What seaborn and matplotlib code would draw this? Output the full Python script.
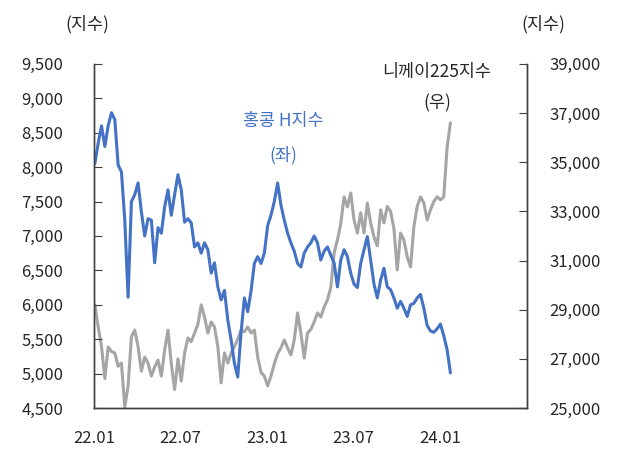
import pandas as pd
import matplotlib
matplotlib.use("Agg")
import matplotlib.pyplot as plt
import matplotlib.dates as mdates
import seaborn as sns

# 주간 데이터
start_date = "2022-01-03"

hscei = [8050, 8350, 8600, 8300, 8600, 8790, 8690, 8030, 7930, 7230,
         6110, 7500, 7600, 7770, 7350, 7000, 7250, 7230, 6610, 7120,
         7040, 7420, 7670, 7300, 7600, 7890, 7670, 7200, 7250, 7190,
         6840, 6900, 6750, 6900, 6800, 6460, 6610, 6260, 6070, 6210,
         5780, 5490, 5150, 4950, 5600, 6100, 5900, 6200, 6600, 6700,
         6600, 6750, 7150, 7300, 7500, 7770, 7450, 7230, 7040, 6900,
         6780, 6600, 6550, 6750, 6840, 6900, 7000, 6900, 6650, 6780,
         6840, 6720, 6610, 6260, 6650, 6800, 6700, 6460, 6300, 6250,
         6600, 6800, 6990, 6650, 6300, 6100, 6360, 6530, 6260, 6220,
         6100, 5950, 6050, 5950, 5830, 6000, 6020, 6100, 6150, 5950,
         5700, 5620, 5600, 5650, 5720, 5550, 5350, 5010]

nikkei = [29200, 28300, 27500, 26200, 27480, 27300, 27240, 26700, 26830, 25040,
          25900, 27900, 28170, 27500, 26500, 27070, 26830, 26300, 26670, 26950,
          26300, 27360, 28170, 26800, 25750, 27000, 26100, 27240, 27850, 27700,
          28050, 28400, 29200, 28700, 28050, 28500, 28300, 27500, 26020, 27240,
          26830, 27240, 27500, 27800, 28170, 28100, 28300, 28050, 28170, 27070,
          26450, 26300, 25900, 26300, 26800, 27200, 27450, 27770, 27440, 27160,
          27770, 28870, 28050, 27030, 28050, 28200, 28500, 28870, 28700, 29110,
          29400, 29900, 31310, 31840, 32500, 33590, 33180, 33750, 32650, 32120,
          32940, 32120, 33340, 32530, 31960, 31600, 33060, 32530, 33200, 33000,
          32300, 30620, 32120, 31840, 31150, 30740, 32370, 33200, 33590, 33340,
          32650, 33060, 33400, 33590, 33470, 33590, 35600, 36600]

x_ticks = ["2022-01-01", "2022-07-01", "2023-01-01", "2023-07-01", "2024-01-01"]

df = pd.DataFrame({
    "date": pd.date_range(start_date, periods=len(hscei), freq="7D"),
    "hscei": hscei,
    "nikkei": nikkei,
})

sns.set_style("white")
plt.rcParams["font.family"] = ["Noto Sans CJK KR", "DejaVu Sans"]

blue = "#4472C4"
gray = "#A5A5A5"

fig = plt.figure(figsize=(6.22, 4.53), dpi=100)
ax = fig.add_axes([0.151, 0.0993, 0.696, 0.7597])
ax2 = ax.twinx()

sns.lineplot(data=df, x="date", y="nikkei", ax=ax2, color=gray, linewidth=2.2)
sns.lineplot(data=df, x="date", y="hscei", ax=ax, color=blue, linewidth=2.2)
# blue over gray
ax.set_zorder(ax2.get_zorder() + 1)
ax.patch.set_visible(False)

ax.set_xlim(pd.Timestamp("2022-01-01"), pd.Timestamp("2024-07-01"))
ax.set_ylim(4500, 9500)
ax2.set_ylim(25000, 39000)
ax.set_yticks(range(4500, 9501, 500))
ax2.set_yticks(range(25000, 39001, 2000))
ax.yaxis.set_major_formatter(matplotlib.ticker.StrMethodFormatter("{x:,.0f}"))
ax2.yaxis.set_major_formatter(matplotlib.ticker.StrMethodFormatter("{x:,.0f}"))
ax.set_xticks(pd.to_datetime(x_ticks))
ax.xaxis.set_major_formatter(mdates.DateFormatter("%y.%m"))

for a in (ax, ax2):
    a.set_xlabel("")
    a.set_ylabel("")
    a.spines["top"].set_visible(False)
    for s in ("left", "right", "bottom"):
        a.spines[s].set_color("#404040")
        a.spines[s].set_linewidth(1.0)

ax.tick_params(axis="y", direction="in", length=6, color="#404040", pad=22, labelsize=12)
ax2.tick_params(axis="y", direction="in", length=6, color="#404040", pad=16, labelsize=12)
ax.tick_params(axis="x", direction="in", length=6, color="#404040", pad=16, labelsize=12)

fig.text(87 / 622, 1 - 24 / 453, "(지수)", ha="center", va="center", fontsize=12.5)
fig.text(543 / 622, 1 - 24 / 453, "(지수)", ha="center", va="center", fontsize=12.5)
fig.text(283 / 622, 1 - 121 / 453, "홍콩 H지수", ha="center", va="center", fontsize=12.5, color=blue)
fig.text(283 / 622, 1 - 155 / 453, "(좌)", ha="center", va="center", fontsize=12.5, color=blue)
fig.text(437 / 622, 1 - 72 / 453, "니께이225지수", ha="center", va="center", fontsize=12.5)
fig.text(437 / 622, 1 - 103 / 453, "(우)", ha="center", va="center", fontsize=12.5)

fig.savefig("out.png", dpi=100)
